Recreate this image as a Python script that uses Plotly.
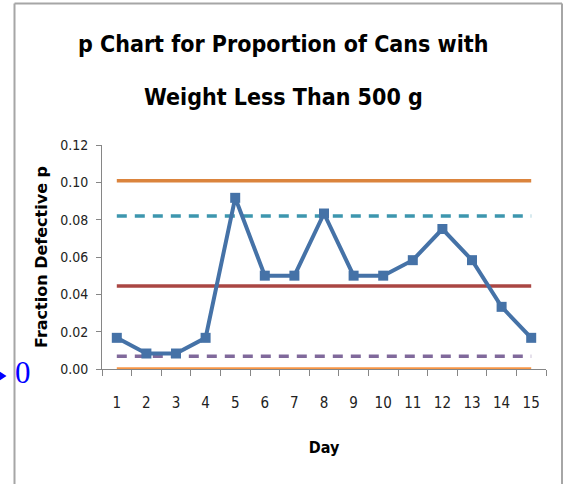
import plotly.graph_objects as go

# Daily samples of cans: fraction underweight (n = 120 per day)
days = [str(d) for d in range(1, 16)]
fraction_defective = [0.0167, 0.0083, 0.0083, 0.0167, 0.0917, 0.0500, 0.0500, 0.0833,
                      0.0500, 0.0500, 0.0583, 0.0750, 0.0583, 0.0333, 0.0167]

# Control and warning limits
ucl = 0.1009
upper_warning = 0.0820
center_line = 0.0444
lower_warning = 0.0068
lcl = 0.0

y_ticks = [0.00, 0.02, 0.04, 0.06, 0.08, 0.10, 0.12]
title_lines = ["p Chart for Proportion of Cans with", "Weight Less Than 500 g"]

fig = go.Figure()

limit_lines = [
    (ucl, "#DB843D", "solid"),
    (upper_warning, "#3D96AE", "10px,8px"),
    (center_line, "#AA4643", "solid"),
    (lower_warning, "#80699B", "10px,8px"),
    (lcl, "#F79646", "solid"),
]
for value, color, dash in limit_lines:
    fig.add_trace(go.Scatter(
        x=days, y=[value] * len(days), mode="lines",
        line=dict(color=color, width=3.5, dash=dash),
        hoverinfo="skip", showlegend=False,
    ))

fig.add_trace(go.Scatter(
    x=days, y=fraction_defective, mode="lines+markers",
    line=dict(color="#4572A7", width=4),
    marker=dict(symbol="square", size=10, color="#4572A7"),
    showlegend=False,
))

narrow = "DejaVu Sans Condensed, Roboto, sans-serif"

fig.update_layout(
    width=564, height=484,
    margin=dict(l=102, r=18, t=145, b=115),
    paper_bgcolor="white", plot_bgcolor="white",
    xaxis=dict(
        type="category", range=[-0.5, 14.5], tickson="boundaries",
        showline=True, linecolor="#868686", linewidth=1,
        ticks="outside", ticklen=6, tickcolor="#868686",
        ticklabelstandoff=20,
        showgrid=False, zeroline=False,
        tickfont=dict(family=narrow, size=15, color="#222222"),
        title=dict(text="<b>Day</b>", standoff=30,
                   font=dict(family=narrow, size=16, color="black")),
    ),
    yaxis=dict(
        range=[0, 0.12], tickvals=y_ticks, tickformat=".2f",
        showline=True, linecolor="#868686", linewidth=1,
        ticks="outside", ticklen=5, tickcolor="#868686",
        ticklabelstandoff=5,
        showgrid=False, zeroline=False,
        tickfont=dict(family=narrow, size=14, color="#222222"),
        title=dict(text="<b>Fraction Defective p</b>", standoff=8,
                   font=dict(family="DejaVu Sans, sans-serif", size=16, color="black")),
    ),
)

# Pixel-to-paper helpers for the plot area (x 102..546, y 145..369)
px_w, px_h = 444.0, 224.0
def px_x(p):
    return (p - 102) / px_w
def px_y(p):
    return (369 - p) / px_h

# Two-line chart title
for line_text, y_pix in zip(title_lines, [44, 97]):
    fig.add_annotation(
        x=px_x(283), y=px_y(y_pix), xref="paper", yref="paper",
        text=f"<b>{line_text}</b>", showarrow=False,
        xanchor="center", yanchor="middle",
        font=dict(family=narrow, size=23, color="black"),
    )

# Outer frame of the chart area
frame = dict(type="line", xref="paper", yref="paper", line=dict(color="#A6A6A6", width=2))
fig.add_shape(x0=px_x(14.5), x1=px_x(14.5), y0=px_y(3.5), y1=px_y(490), **frame)
fig.add_shape(x0=px_x(14.5), x1=px_x(562), y0=px_y(3.5), y1=px_y(3.5), **frame)
fig.add_shape(x0=px_x(562), x1=px_x(562), y0=px_y(3.5), y1=px_y(490), **frame)

# Blue pointer marking the zero level
fig.add_shape(
    type="path", xref="paper", yref="paper",
    path=f"M {px_x(-2)} {px_y(370.5)} L {px_x(6.5)} {px_y(376)} L {px_x(-2)} {px_y(381.5)} Z",
    fillcolor="#0000FF", line=dict(width=0),
)
fig.add_annotation(
    x=px_x(22.5), y=px_y(372), xref="paper", yref="paper",
    text="0", showarrow=False, xanchor="center", yanchor="middle",
    font=dict(family="Liberation Serif, Times New Roman, serif", size=31, color="#0000FF"),
)

fig.write_html("out.html")
